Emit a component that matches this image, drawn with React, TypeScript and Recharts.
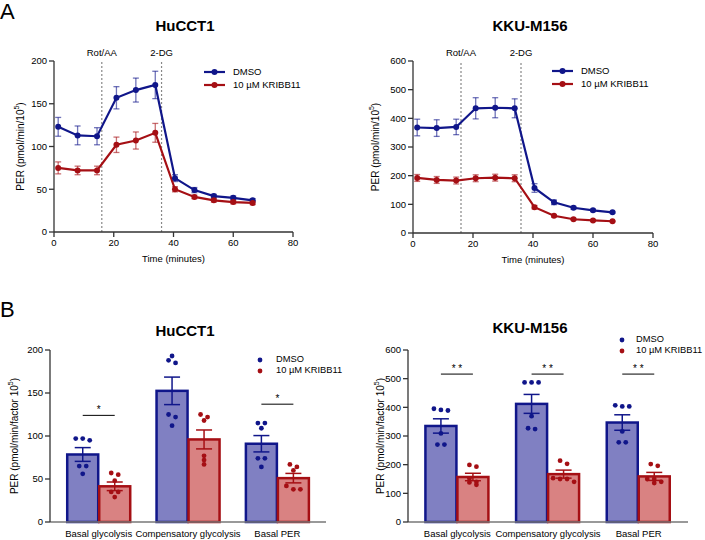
import {
  ComposedChart,
  Line,
  Bar,
  XAxis,
  YAxis,
  ErrorBar,
  ReferenceLine,
} from "recharts";

// Panel A: glycolytic rate assay time course
const times = [1.4, 7.9, 14.4, 20.9, 27.4, 33.9, 40.5, 47, 53.5, 60, 66.5];

const hucDmso = [123, 113, 112, 157, 166, 172, 63, 49, 42, 40, 37];
const hucDmsoSem = [11, 11, 10, 13, 14, 16, 4, 3, 2, 2, 2];
const hucKribb = [75, 72, 72, 102, 107, 116, 50, 41, 37, 35, 34];
const hucKribbSem = [7, 5, 5, 9, 10, 11, 3, 2, 2, 2, 2];

const kkuDmso = [368, 366, 370, 435, 437, 435, 157, 107, 88, 79, 72];
const kkuDmsoSem = [29, 29, 27, 37, 35, 33, 15, 8, 5, 4, 3];
const kkuKribb = [192, 185, 183, 191, 193, 191, 90, 60, 48, 44, 41];
const kkuKribbSem = [12, 12, 12, 12, 12, 12, 6, 4, 3, 3, 2];

// Panel B: summary bars with individual replicates
const categories = ["Basal glycolysis", "Compensatory glycolysis", "Basal PER"];

const hucBarDmso = [78.5, 152.5, 91];
const hucBarDmsoSem = [8, 16, 9.5];
const hucBarKribb = [41.5, 96, 51];
const hucBarKribbSem = [5, 11, 5.5];
const hucDotsDmso = [
  [97, 95, 97, 65, 65, 56],
  [193, 188, 185, 125, 122, 112],
  [115, 115, 109, 74, 74, 64],
];
const hucDotsKribb = [
  [57, 55, 48, 35, 35, 29],
  [125, 122, 118, 77, 72, 67],
  [67, 64, 60, 42, 38, 38],
];
const hucSig = ["*", "", "*"];
const hucSigY = [124, 0, 137];

const kkuBarDmso = [335, 412, 347];
const kkuBarDmsoSem = [25, 33, 27];
const kkuBarKribb = [157, 167, 159];
const kkuBarKribbSem = [13, 14, 14];
const kkuDotsDmso = [
  [395, 389, 391, 309, 270, 270],
  [487, 487, 487, 369, 324, 327],
  [407, 403, 403, 316, 278, 278],
];
const kkuDotsKribb = [
  [193, 199, 152, 140, 138, 130],
  [214, 203, 153, 150, 150, 140],
  [196, 202, 150, 150, 140, 136],
];
const kkuSig = ["**", "**", "**"];
const kkuSigY = [516, 516, 516];

const NAVY = "#10168a";
const RED = "#a50f14";
const NAVY_FILL = "#8080c2";
const RED_FILL = "#d98282";
const AXIS = "#333";
const FONT = "'Liberation Sans', Arial, sans-serif";

const timeData = (d: number[], ds: number[], k: number[], ks: number[]) =>
  times.map((t, i) => ({ t, dmso: d[i], dmsoErr: ds[i], kribb: k[i], kribbErr: ks[i] }));

const barData = (
  d: number[], ds: number[], k: number[], ks: number[],
  dd: number[][], kd: number[][], sig: string[], sigY: number[]
) =>
  categories.map((name, i) => ({
    name,
    dmso: d[i],
    dmsoErr: ds[i],
    kribb: k[i],
    kribbErr: ks[i],
    dmsoDots: dd[i],
    kribbDots: kd[i],
    sig: sig[i],
    sigY: sigY[i],
  }));

// simple beeswarm: dots that sit close in y are spread sideways
const swarm = (ys: number[], cx: number) => {
  const sorted = [...ys].sort((a, b) => a - b);
  const rows: number[][] = [];
  sorted.forEach((y) => {
    const row = rows[rows.length - 1];
    if (row && y - row[0] < 4) row.push(y);
    else rows.push([y]);
  });
  return rows.flatMap((row) =>
    row.map((y, i) => ({ x: cx + (i - (row.length - 1) / 2) * 7, y }))
  );
};

const barShape = (valKey: string, dotKey: string, dotColor: string, withSig: boolean) =>
  (props: any) => {
    const { x, y, width, height, payload, fill, stroke } = props;
    const base = y + height;
    const k = height / payload[valKey];
    const cx = x + width / 2;
    const dots = swarm(payload[dotKey].map((v: number) => base - v * k), cx);
    const sy = base - payload.sigY * k;
    return (
      <g>
        <rect x={x} y={y} width={width} height={height} fill={fill} stroke={stroke} strokeWidth={2.5} />
        {dots.map((p, i) => (
          <circle key={i} cx={p.x} cy={p.y} r={2.4} fill={dotColor} />
        ))}
        {withSig && payload.sig && (
          <g>
            <line x1={cx} x2={cx + width + 1} y1={sy} y2={sy} stroke="#000" strokeWidth={1} />
            <text x={cx + (width + 1) / 2} y={sy - 2} textAnchor="middle" fontSize={10} fill="#000">
              {payload.sig.split("").join(" ")}
            </text>
          </g>
        )}
      </g>
    );
  };

const yLabel = (text: string, dx: number) => (props: any) => {
  const { x, y, height } = props.viewBox;
  const cx = x + dx;
  const cy = y + height / 2;
  return (
    <text
      x={cx}
      y={cy}
      transform={`rotate(-90, ${cx}, ${cy})`}
      textAnchor="middle"
      dominantBaseline="central"
      fontSize={10}
      fill="#000"
    >
      {text}
      <tspan dy={-4} fontSize={7}>5</tspan>
      <tspan dy={4}>)</tspan>
    </text>
  );
};

const Title = ({ x, y, children }: any) => (
  <div
    style={{
      position: "absolute",
      left: x,
      top: y,
      transform: "translate(-50%, -50%)",
      fontWeight: "bold",
      fontSize: 15,
      lineHeight: 1,
      whiteSpace: "nowrap",
    }}
  >
    {children}
  </div>
);

const LineLegend = ({ x, y }: any) => (
  <div style={{ position: "absolute", left: x, top: y, fontSize: 9.5, lineHeight: "12.5px" }}>
    {[
      { c: NAVY, t: "DMSO" },
      { c: RED, t: "10 µM KRIBB11" },
    ].map((it) => (
      <div key={it.t} style={{ display: "flex", alignItems: "center", whiteSpace: "nowrap" }}>
        <svg width={21} height={8} style={{ marginRight: 8 }}>
          <line x1={0} x2={21} y1={4} y2={4} stroke={it.c} strokeWidth={2.2} />
          <circle cx={10.5} cy={4} r={3} fill={it.c} />
        </svg>
        {it.t}
      </div>
    ))}
  </div>
);

const DotLegend = ({ x, y, gap }: any) => (
  <div style={{ position: "absolute", left: x, top: y, fontSize: 9.3, lineHeight: "11px" }}>
    {[
      { c: NAVY, t: "DMSO" },
      { c: RED, t: "10 µM KRIBB11" },
    ].map((it) => (
      <div key={it.t} style={{ display: "flex", alignItems: "center", whiteSpace: "nowrap" }}>
        <svg width={8} height={8} style={{ marginRight: gap }}>
          <circle cx={4} cy={4} r={2.4} fill={it.c} />
        </svg>
        {it.t}
      </div>
    ))}
  </div>
);

const TimeChart = ({ data, max, ticks, margin, width, labelDx }: any) => (
  <ComposedChart width={width} height={270} data={data} margin={margin}>
    <XAxis
      type="number"
      dataKey="t"
      domain={[0, 80]}
      ticks={[0, 20, 40, 60, 80]}
      height={30}
      tickSize={5}
      stroke={AXIS}
      strokeWidth={1.3}
      tick={{ fontSize: 9.5, fill: "#000" }}
      label={{ value: "Time (minutes)", position: "insideBottom", offset: 0, fontSize: 9.5, fill: "#000" }}
    />
    <YAxis
      type="number"
      domain={[0, max]}
      ticks={ticks}
      width={45}
      tickSize={5}
      stroke={AXIS}
      strokeWidth={1.3}
      tick={{ fontSize: 9.5, fill: "#000" }}
      label={yLabel("PER (pmol/min/10", labelDx)}
    />
    <ReferenceLine
      x={16}
      stroke="#888"
      strokeDasharray="2 2"
      strokeWidth={1.2}
      label={{ value: "Rot/AA", position: "top", fontSize: 9.5, fill: "#000" }}
    />
    <ReferenceLine
      x={36}
      stroke="#888"
      strokeDasharray="2 2"
      strokeWidth={1.2}
      label={{ value: "2-DG", position: "top", fontSize: 9.5, fill: "#000" }}
    />
    <Line
      type="linear"
      dataKey="dmso"
      stroke={NAVY}
      strokeWidth={2.2}
      dot={{ r: 3, fill: NAVY, stroke: NAVY, strokeWidth: 0 }}
      isAnimationActive={false}
    >
      <ErrorBar dataKey="dmsoErr" direction="y" width={3} stroke={NAVY} strokeOpacity={0.6} strokeWidth={1.3} />
    </Line>
    <Line
      type="linear"
      dataKey="kribb"
      stroke={RED}
      strokeWidth={2.2}
      dot={{ r: 3, fill: RED, stroke: RED, strokeWidth: 0 }}
      isAnimationActive={false}
    >
      <ErrorBar dataKey="kribbErr" direction="y" width={3} stroke={RED} strokeOpacity={0.6} strokeWidth={1.3} />
    </Line>
  </ComposedChart>
);

const SummaryChart = ({ data, max, ticks, margin, width, labelDx }: any) => (
  <ComposedChart
    width={width}
    height={270}
    data={data}
    margin={margin}
    barCategoryGap="14.8%"
    barGap={1}
  >
    <XAxis
      dataKey="name"
      height={18}
      interval={0}
      tickLine={false}
      padding={{ left: 4, right: 4 }}
      stroke="#777"
      strokeWidth={1.5}
      tick={{ fontSize: 9.5, fill: "#000" }}
    />
    <YAxis
      type="number"
      domain={[0, max]}
      ticks={ticks}
      width={45}
      tickSize={5}
      stroke={AXIS}
      strokeWidth={1.3}
      tick={{ fontSize: 9.5, fill: "#000" }}
      label={yLabel("PER (pmol/min/factor 10", labelDx)}
    />
    <Bar
      dataKey="dmso"
      fill={NAVY_FILL}
      stroke={NAVY}
      shape={barShape("dmso", "dmsoDots", NAVY, true)}
      isAnimationActive={false}
    >
      <ErrorBar dataKey="dmsoErr" direction="y" width={8} stroke={NAVY} strokeWidth={1.5} />
    </Bar>
    <Bar
      dataKey="kribb"
      fill={RED_FILL}
      stroke={RED}
      shape={barShape("kribb", "kribbDots", RED, false)}
      isAnimationActive={false}
    >
      <ErrorBar dataKey="kribbErr" direction="y" width={8} stroke={RED} strokeWidth={1.5} />
    </Bar>
  </ComposedChart>
);

export default function App() {
  const hucTime = timeData(hucDmso, hucDmsoSem, hucKribb, hucKribbSem);
  const kkuTime = timeData(kkuDmso, kkuDmsoSem, kkuKribb, kkuKribbSem);
  const hucBars = barData(hucBarDmso, hucBarDmsoSem, hucBarKribb, hucBarKribbSem, hucDotsDmso, hucDotsKribb, hucSig, hucSigY);
  const kkuBars = barData(kkuBarDmso, kkuBarDmsoSem, kkuBarKribb, kkuBarKribbSem, kkuDotsDmso, kkuDotsKribb, kkuSig, kkuSigY);

  return (
    <div
      style={{
        position: "absolute",
        left: 0,
        top: 0,
        width: 705,
        height: 540,
        overflow: "hidden",
        background: "#fff",
        fontFamily: FONT,
        color: "#000",
      }}
    >
      <div style={{ position: "absolute", left: 0, top: 1, fontSize: 22, lineHeight: 1 }}>A</div>
      <div style={{ position: "absolute", left: 0, top: 299, fontSize: 22, lineHeight: 1 }}>B</div>

      <div style={{ position: "absolute", left: 0, top: 0 }}>
        <TimeChart data={hucTime} max={200} ticks={[0, 50, 100, 150, 200]} width={350}
          margin={{ top: 61, right: 57, bottom: 8, left: 9 }} labelDx={11} />
      </div>
      <div style={{ position: "absolute", left: 350, top: 0 }}>
        <TimeChart data={kkuTime} max={600} ticks={[0, 100, 200, 300, 400, 500, 600]} width={355}
          margin={{ top: 61, right: 52, bottom: 7, left: 18 }} labelDx={7} />
      </div>
      <div style={{ position: "absolute", left: 0, top: 270 }}>
        <SummaryChart data={hucBars} max={200} ticks={[0, 50, 100, 150, 200]} width={350}
          margin={{ top: 80, right: 24, bottom: 0, left: 5 }} labelDx={9} />
      </div>
      <div style={{ position: "absolute", left: 350, top: 270 }}>
        <SummaryChart data={kkuBars} max={600} ticks={[0, 100, 200, 300, 400, 500, 600]} width={355}
          margin={{ top: 80, right: 17, bottom: 0, left: 13 }} labelDx={17} />
      </div>

      <Title x={185} y={25}>HuCCT1</Title>
      <Title x={530} y={25}>KKU-M156</Title>
      <Title x={185} y={330}>HuCCT1</Title>
      <Title x={530} y={327}>KKU-M156</Title>

      <LineLegend x={204} y={66} />
      <LineLegend x={552} y={65} />
      <DotLegend x={256} y={354} gap={12} />
      <DotLegend x={618} y={334} gap={10} />
    </div>
  );
}
